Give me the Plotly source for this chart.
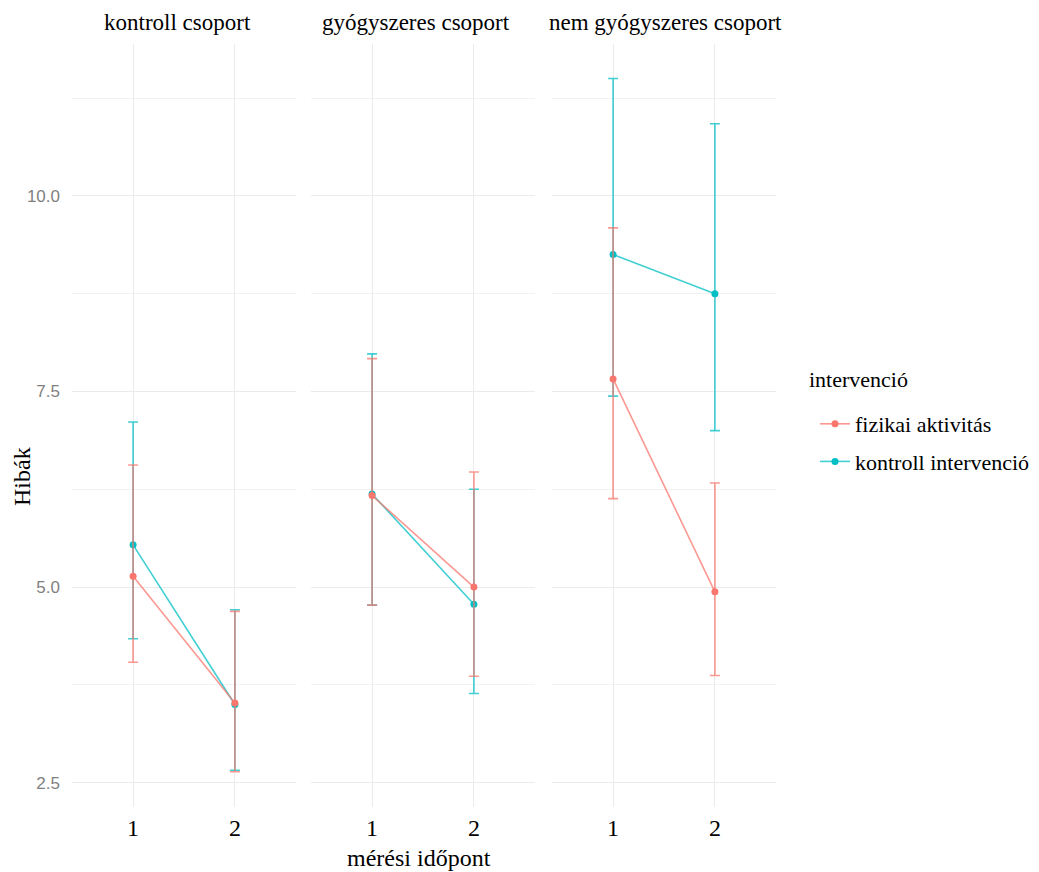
import plotly.graph_objects as go

# ---- data ----
panels = ["kontroll csoport", "gyógyszeres csoport", "nem gyógyszeres csoport"]
timepoints = [1, 2]
groups = ["fizikai aktivitás", "kontroll intervenció"]
legend_title = "intervenció"

# mean values per panel [t1, t2]
fiz_mean = [[5.14, 3.52], [6.17, 5.00], [7.66, 4.94]]
fiz_upper = [[6.56, 4.69], [7.92, 6.47], [9.59, 6.33]]
fiz_lower = [[4.04, 2.64], [4.77, 3.86], [6.13, 3.87]]

kon_mean = [[5.54, 3.50], [6.19, 4.78], [9.25, 8.75]]
kon_upper = [[7.11, 4.71], [7.98, 6.25], [11.50, 10.92]]
kon_lower = [[4.34, 2.66], [4.77, 3.64], [7.44, 7.00]]

y_ticks = [2.5, 5.0, 7.5, 10.0]
y_tick_text = ["2.5", "5.0", "7.5", "10.0"]
y_minor = [3.75, 6.25, 8.75, 11.25]

# ---- styling ----
W, H = 1039, 872
red = "#F8766D"
teal = "#00BFC4"
red_a = "rgba(248,118,109,0.75)"
teal_a = "rgba(0,191,196,0.75)"
serif = "Liberation Serif"
sans = "Liberation Sans"

x_px = [(72, 296), (311, 535), (552, 776)]
strip_centers = [177, 416, 665]
y_dom = [1 - 807 / H, 1 - 44 / H]
y_rng = [2.19, 11.94]

fig = go.Figure()

series = [
    (groups[1], kon_mean, kon_upper, kon_lower, teal, teal_a, 2),
    (groups[0], fiz_mean, fiz_upper, fiz_lower, red, red_a, 1),
]

for i in range(3):
    xa = "x" if i == 0 else f"x{i+1}"
    ya = "y" if i == 0 else f"y{i+1}"
    for name, mean, up, lo, col, col_a, rank in series:
        m = mean[i]
        fig.add_trace(go.Scatter(
            x=timepoints, y=m,
            xaxis=xa, yaxis=ya,
            mode="lines+markers",
            name=name, legendgroup=name, legendrank=rank,
            showlegend=(i == 0),
            line=dict(color=col_a, width=1.6),
            marker=dict(color=col, size=7),
            error_y=dict(type="data", symmetric=False,
                         array=[u - v for u, v in zip(up[i], m)],
                         arrayminus=[v - l for v, l in zip(m, lo[i])],
                         color=col_a, thickness=1.6, width=5),
        ))

layout = dict(
    width=W, height=H,
    margin=dict(l=0, r=0, t=0, b=0),
    paper_bgcolor="white", plot_bgcolor="white",
    showlegend=True,
    legend=dict(
        font=dict(family=serif, size=22, color="black"),
        x=815 / W, y=1 - 403 / H, xanchor="left", yanchor="top",
        tracegroupgap=6, itemwidth=30,
    ),
)

for i in range(3):
    xkey = "xaxis" if i == 0 else f"xaxis{i+1}"
    ykey = "yaxis" if i == 0 else f"yaxis{i+1}"
    layout[xkey] = dict(
        domain=[x_px[i][0] / W, x_px[i][1] / W],
        range=[0.4, 2.6], tickvals=timepoints, ticktext=[str(t) for t in timepoints],
        showgrid=True, gridcolor="#EBEBEB", gridwidth=1.2,
        zeroline=False, showline=False, ticks="",
        tickfont=dict(family=serif, size=24, color="black"),
        ticklabelstandoff=4,
        anchor="y" if i == 0 else f"y{i+1}",
    )
    ydef = dict(
        domain=y_dom, range=y_rng,
        tickvals=y_ticks, ticktext=y_tick_text,
        showgrid=True, gridcolor="#EBEBEB", gridwidth=1.2,
        minor=dict(tickvals=y_minor, showgrid=True, gridcolor="#F2F2F2", gridwidth=1),
        zeroline=False, showline=False, ticks="",
        anchor="x" if i == 0 else f"x{i+1}",
    )
    if i == 0:
        ydef.update(tickfont=dict(family=sans, size=17, color="#7F7F7F"), ticklabelstandoff=11)
    else:
        ydef.update(showticklabels=False, matches="y")
    layout[ykey] = ydef

fig.update_layout(**layout)

# strip titles
for i, t in enumerate(panels):
    fig.add_annotation(text=t, x=strip_centers[i] / W, y=1 - 23 / H, xref="paper", yref="paper",
                       showarrow=False, xanchor="center", yanchor="middle",
                       font=dict(family=serif, size=23, color="black"))

# legend title
fig.add_annotation(text=legend_title, x=807 / W, y=1 - 379 / H, xref="paper", yref="paper",
                   showarrow=False, xanchor="left", yanchor="middle",
                   font=dict(family=serif, size=22, color="black"))

# axis titles
fig.add_annotation(text="mérési időpont", x=419 / W, y=1 - 858 / H, xref="paper", yref="paper",
                   showarrow=False, xanchor="center", yanchor="middle",
                   font=dict(family=serif, size=24, color="black"))
fig.add_annotation(text="Hibák", x=22 / W, y=1 - 477 / H, xref="paper", yref="paper",
                   showarrow=False, xanchor="center", yanchor="middle", textangle=-90,
                   font=dict(family=serif, size=24, color="black"))

fig.write_html("out.html")
